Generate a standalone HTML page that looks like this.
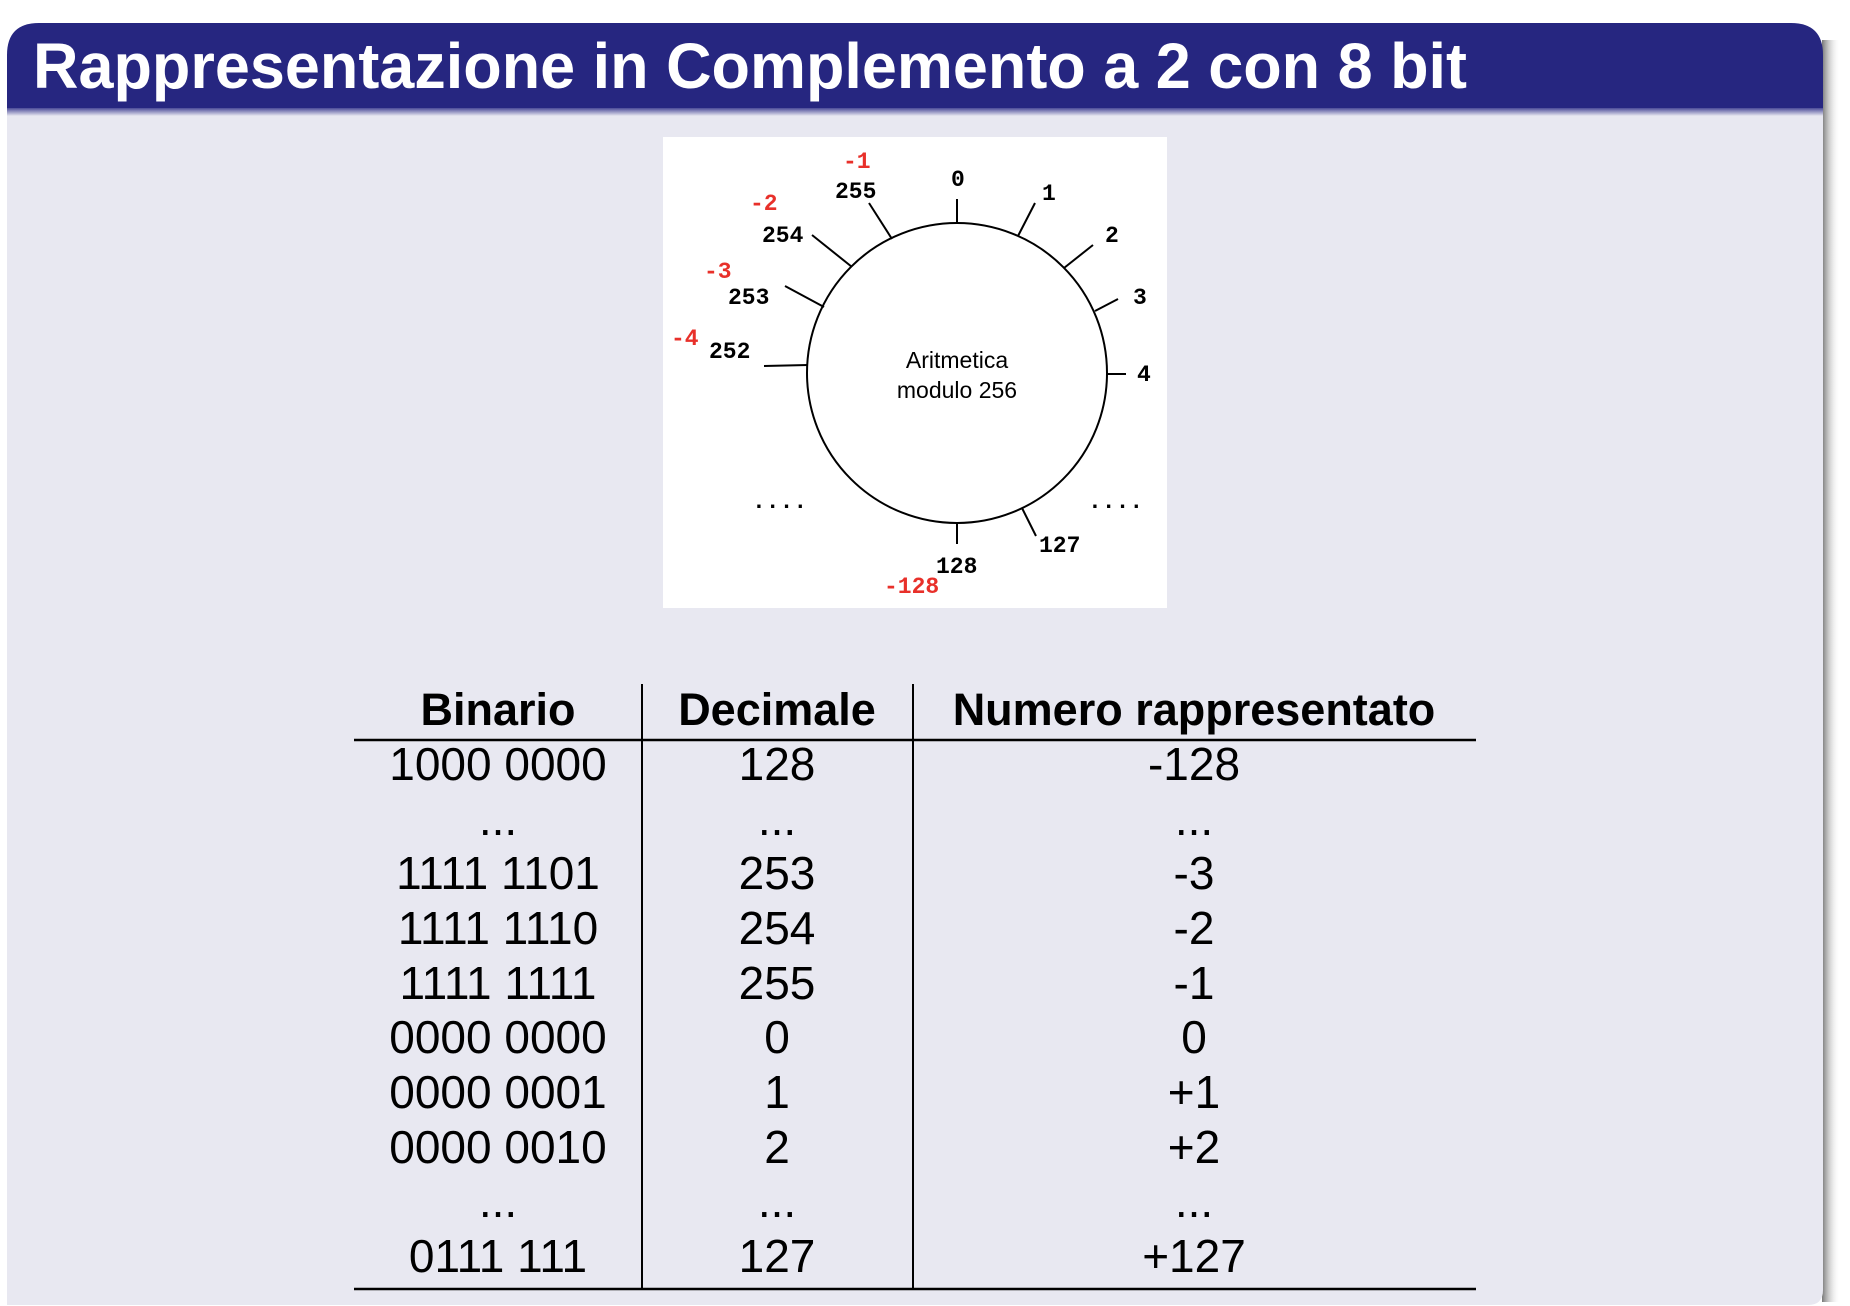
<!DOCTYPE html>
<html><head><meta charset="utf-8"><style>
html,body{margin:0;padding:0;background:#fff;}
svg{display:block;}
</style></head><body>
<svg width="1850" height="1306" viewBox="0 0 1850 1306" xmlns="http://www.w3.org/2000/svg">
<defs>
<linearGradient id="sh" x1="0" x2="1" y1="0" y2="0"><stop offset="0" stop-color="#777"/><stop offset="1" stop-color="#fff" stop-opacity="0"/></linearGradient>
<linearGradient id="tb" x1="0" x2="0" y1="0" y2="1"><stop offset="0" stop-color="#4a4a98"/><stop offset="1" stop-color="#e8e8f1"/></linearGradient>
</defs>
<rect x="1822" y="40" width="18" height="1262" fill="url(#sh)"/>
<path d="M7 108 H1823 V1290 Q1823 1305 1808 1305 H7 Z" fill="#e8e8f1"/>
<path d="M7 108 V55 Q7 23 39 23 H1791 Q1823 23 1823 55 V108 Z" fill="#262680"/>
<rect x="7" y="108" width="1816" height="8" fill="url(#tb)"/>
<text x="33" y="88" font-family="Liberation Sans, sans-serif" font-weight="bold" font-size="64" fill="#fff" textLength="1434" lengthAdjust="spacingAndGlyphs">Rappresentazione in Complemento a 2 con 8 bit</text>

<g>
<rect x="663" y="137" width="504" height="471" fill="#fff"/>
<circle cx="957" cy="373" r="150" fill="#fff" stroke="#000" stroke-width="2"/>
<g stroke="#000" stroke-width="2">
<line x1="957" y1="199" x2="957" y2="224"/>
<line x1="1035" y1="203" x2="1018" y2="236"/>
<line x1="1093" y1="245" x2="1064" y2="268"/>
<line x1="1118" y1="299" x2="1095" y2="311"/>
<line x1="1126" y1="374" x2="1107" y2="374"/>
<line x1="869" y1="203" x2="892" y2="239"/>
<line x1="812" y1="235" x2="852" y2="267"/>
<line x1="785" y1="286" x2="824" y2="307"/>
<line x1="764" y1="366" x2="808" y2="365"/>
<line x1="957" y1="523" x2="957" y2="544"/>
<line x1="1022" y1="508" x2="1036" y2="536"/>
</g>
<g font-family="Liberation Mono, monospace" font-weight="bold" font-size="23" fill="#000">
<text x="951" y="186">0</text>
<text x="1042" y="200">1</text>
<text x="1105" y="242">2</text>
<text x="1133" y="304">3</text>
<text x="1137" y="381">4</text>
<text x="835" y="198">255</text>
<text x="762" y="242">254</text>
<text x="728" y="304">253</text>
<text x="709" y="358">252</text>
<text x="1039" y="552">127</text>
<text x="936" y="573">128</text>
<text x="752" y="508">....</text>
<text x="1088" y="508">....</text>
</g>
<g font-family="Liberation Mono, monospace" font-weight="bold" font-size="23" fill="#e8302a">
<text x="843" y="168">-1</text>
<text x="750" y="210">-2</text>
<text x="704" y="278">-3</text>
<text x="671" y="345">-4</text>
<text x="884" y="593">-128</text>
</g>
<text x="957" y="368" text-anchor="middle" font-family="Liberation Sans, sans-serif" font-size="23">Aritmetica</text>
<text x="957" y="398" text-anchor="middle" font-family="Liberation Sans, sans-serif" font-size="23">modulo 256</text>
</g>

<g>
<line x1="354" y1="740" x2="1476" y2="740" stroke="#000" stroke-width="2.5"/>
<line x1="354" y1="1289" x2="1476" y2="1289" stroke="#000" stroke-width="2.5"/>
<line x1="642" y1="684" x2="642" y2="1289" stroke="#000" stroke-width="2"/>
<line x1="913" y1="684" x2="913" y2="1289" stroke="#000" stroke-width="2"/>
<g font-family="Liberation Sans, sans-serif" font-weight="bold" font-size="45" text-anchor="middle">
<text x="498" y="725">Binario</text>
<text x="777" y="725">Decimale</text>
<text x="1194" y="725">Numero rappresentato</text>
</g>
<g font-family="Liberation Sans, sans-serif" font-size="46" text-anchor="middle">
<text x="498" y="780">1000 0000</text><text x="777" y="780">128</text><text x="1194" y="780">-128</text>
<text x="498" y="835">...</text><text x="777" y="835">...</text><text x="1194" y="835">...</text>
<text x="498" y="889">1111 1101</text><text x="777" y="889">253</text><text x="1194" y="889">-3</text>
<text x="498" y="944">1111 1110</text><text x="777" y="944">254</text><text x="1194" y="944">-2</text>
<text x="498" y="999">1111 1111</text><text x="777" y="999">255</text><text x="1194" y="999">-1</text>
<text x="498" y="1053">0000 0000</text><text x="777" y="1053">0</text><text x="1194" y="1053">0</text>
<text x="498" y="1108">0000 0001</text><text x="777" y="1108">1</text><text x="1194" y="1108">+1</text>
<text x="498" y="1163">0000 0010</text><text x="777" y="1163">2</text><text x="1194" y="1163">+2</text>
<text x="498" y="1217">...</text><text x="777" y="1217">...</text><text x="1194" y="1217">...</text>
<text x="498" y="1272">0111 111</text><text x="777" y="1272">127</text><text x="1194" y="1272">+127</text>
</g>
</g>
</svg>
</body></html>
